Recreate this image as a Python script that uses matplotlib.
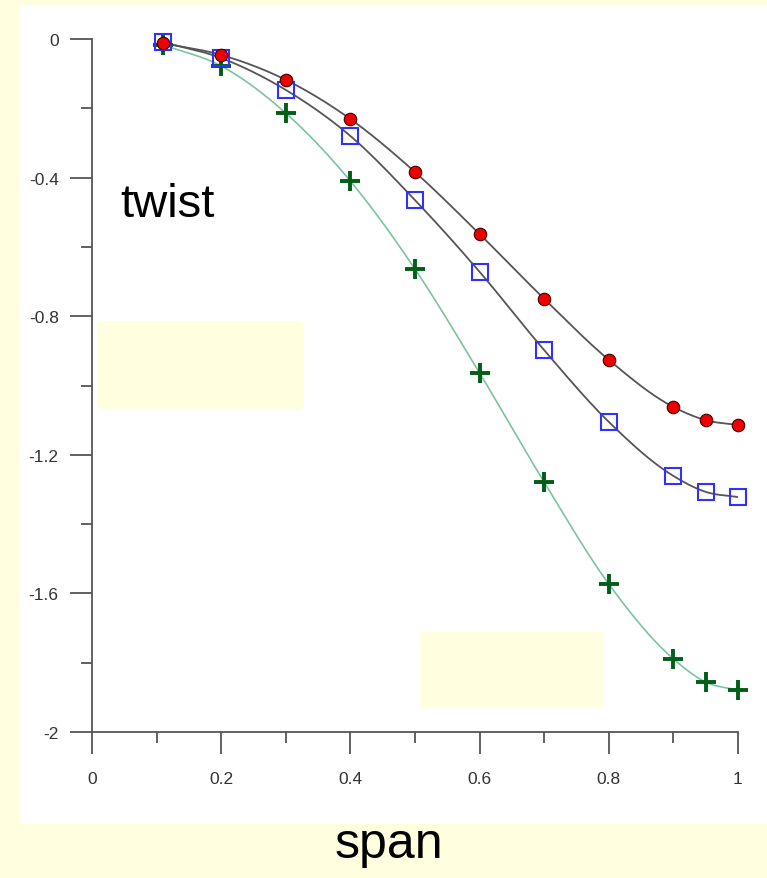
import matplotlib
matplotlib.use('Agg')
import matplotlib.pyplot as plt
from matplotlib.patches import Rectangle, FancyBboxPatch
import numpy as np

span = [0.11, 0.2, 0.3, 0.4, 0.5, 0.6, 0.7, 0.8, 0.9, 0.95, 1.0]
twist_circle = [-0.012, -0.046, -0.118, -0.231, -0.384, -0.563, -0.750, -0.926, -1.062, -1.100, -1.114]
twist_square = [-0.009, -0.055, -0.147, -0.280, -0.465, -0.672, -0.898, -1.105, -1.261, -1.307, -1.322]
twist_plus = [-0.017, -0.078, -0.214, -0.410, -0.664, -0.964, -1.279, -1.573, -1.789, -1.856, -1.879]

xticks = [0, 0.2, 0.4, 0.6, 0.8, 1]
xlabels = ['0', '0.2', '0.4', '0.6', '0.8', '1']
yticks = [0, -0.4, -0.8, -1.2, -1.6, -2]
ylabels = ['0', '-0.4', '-0.8', '-1.2', '-1.6', '-2']

bg = '#ffffe0'
W, H = 767, 879


def smooth(x, y, n=20):
    # cubic hermite through the points, slopes from neighbouring differences
    x = np.asarray(x, float)
    y = np.asarray(y, float)
    dx = np.diff(x)
    d = np.diff(y) / dx
    m = np.empty_like(y)
    m[0] = d[0]
    m[-1] = d[-1]
    m[1:-1] = (d[:-1] * dx[1:] + d[1:] * dx[:-1]) / (dx[1:] + dx[:-1])
    xs, ys = [], []
    t = np.linspace(0, 1, n, endpoint=False)
    h00 = 2 * t**3 - 3 * t**2 + 1
    h10 = t**3 - 2 * t**2 + t
    h01 = -2 * t**3 + 3 * t**2
    h11 = t**3 - t**2
    for i in range(len(x) - 1):
        h = dx[i]
        xs.extend(x[i] + t * h)
        ys.extend(h00 * y[i] + h10 * h * m[i] + h01 * y[i + 1] + h11 * h * m[i + 1])
    xs.append(x[-1])
    ys.append(y[-1])
    return np.array(xs), np.array(ys)


plt.rcParams['font.family'] = ['Liberation Sans', 'DejaVu Sans']

fig = plt.figure(figsize=(W / 100, H / 100), dpi=100)
fig.patch.set_facecolor(bg)

# white panel behind the chart
fig.add_artist(Rectangle((20 / W, 1 - 825 / H), (W - 20) / W, 819 / H,
                         transform=fig.transFigure, facecolor='white',
                         edgecolor='none', zorder=-1))

ax = fig.add_axes([92 / W, 1 - 733 / H, 646 / W, 693 / H])
ax.set_facecolor('none')

sx, sy = smooth(span, twist_plus)
ax.plot(sx, sy, color='#7cc49f', lw=1.2, zorder=2)
sx, sy = smooth(span, twist_square)
ax.plot(sx, sy, color='#555555', lw=1.3, zorder=2)
sx, sy = smooth(span, twist_circle)
ax.plot(sx, sy, color='#555555', lw=1.3, zorder=2)

ax.plot(span, twist_plus, ls='none', marker='+', ms=14, mew=2.8,
        color='#005e18', zorder=3, clip_on=False)
ax.plot(span, twist_square, ls='none', marker='s', ms=11, mew=1.5,
        mfc='none', mec='#3030ff', zorder=4, clip_on=False)
ax.plot(span, twist_circle, ls='none', marker='o', ms=9, mew=0.8,
        mfc='#ee0000', mec='#400000', zorder=5, clip_on=False)

ax.set_xlim(0, 1)
ax.set_ylim(-2, 0)
ax.set_xticks(xticks)
ax.set_xticklabels(xlabels)
ax.set_xticks([0.1, 0.3, 0.5, 0.7, 0.9], minor=True)
ax.set_yticks(yticks)
ax.set_yticklabels(ylabels)
ax.set_yticks([-0.2, -0.6, -1.0, -1.4, -1.8], minor=True)

for s in ['top', 'right']:
    ax.spines[s].set_visible(False)
for s in ['left', 'bottom']:
    ax.spines[s].set_color('#555555')
    ax.spines[s].set_linewidth(1.3)

ax.tick_params(which='major', length=16, width=1.3, color='#555555',
               labelsize=12.5, labelcolor='#333333', pad=8)
ax.tick_params(which='minor', length=8, width=1.3, color='#555555')
ax.tick_params(axis='x', which='major', pad=12)

# pale boxes left over on the slide
fig.add_artist(FancyBboxPatch((98 / W, 1 - 411 / H), 205 / W, 89 / H,
                              boxstyle='round,pad=0,rounding_size=0.004',
                              transform=fig.transFigure, facecolor=bg,
                              edgecolor='none', zorder=1))
fig.add_artist(FancyBboxPatch((420 / W, 1 - 709 / H), 183 / W, 76 / H,
                              boxstyle='round,pad=0,rounding_size=0.004',
                              transform=fig.transFigure, facecolor=bg,
                              edgecolor='none', zorder=1))

fig.text(120 / W, 1 - 217 / H, 'twist', fontsize=34, ha='left', va='baseline')
fig.text(335 / W, 1 - 858 / H, 'span', fontsize=36, ha='left', va='baseline')

fig.savefig('out.png', dpi=100, facecolor=bg)
